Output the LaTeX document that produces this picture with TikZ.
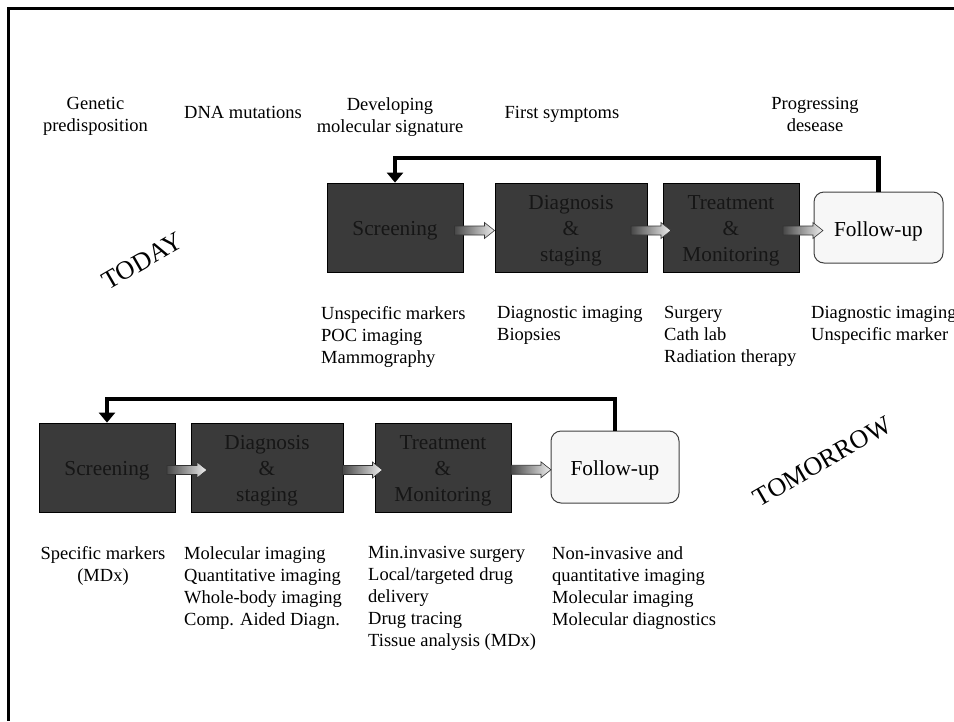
\documentclass[tikz,border=0pt]{standalone}
\usepackage{fontspec}
\setmainfont{Liberation Serif}
\usetikzlibrary{arrows.meta,calc}
\definecolor{boxfill}{HTML}{3A3A3A}
\definecolor{boxtext}{HTML}{161616}
\definecolor{fufill}{HTML}{F7F7F7}
\begin{document}
\begin{tikzpicture}[x=1pt,y=-1pt,
  stage/.style={draw=black, line width=0.8pt, fill=boxfill, minimum height=89pt, inner sep=0pt},
  stagetext/.style={text=boxtext, font=\fontsize{21.3}{26}\selectfont, align=center, inner sep=0pt, yshift=-3.5pt},
  futext/.style={text=black, font=\fontsize{21.3}{26}\selectfont, align=center, inner sep=0pt, yshift=-3.5pt},
  followup/.style={draw=black!75, line width=1pt, fill=fufill, rounded corners=10pt, minimum height=71pt, inner sep=0pt},
  lbl/.style={font=\fontsize{18.5}{22}\selectfont, inner sep=0pt, align=left, anchor=north west},
  toplbl/.style={font=\fontsize{18.5}{22}\selectfont, inner sep=0pt, align=center, anchor=north},
  era/.style={font=\fontsize{26}{30}\selectfont, rotate=30, inner sep=0pt},
  feedback/.style={line width=4.5pt, line join=miter, -{Triangle[width=16pt,length=10pt]}},
  blockarrow/.pic={\shade[left color=black!72, right color=black!6, draw=black!80, line width=0.6pt]
    (-20,-4.5) -- (10,-4.5) -- (10,-8) -- (20,0) -- (10,8) -- (10,4.5) -- (-20,4.5) -- cycle;}
]
\useasboundingbox (0,0) rectangle (954,721);
\clip (0,0) rectangle (954,721);
\draw[line width=2.5pt] (954,8.5) -- (8.5,8.5) -- (8.5,721);

% top labels
\node[toplbl] (gen) at (95.5,97.5) {Genetic\\predisposition};
\node[toplbl] (dna) at (243,106) {DNA mutations};
\node[toplbl] (dev) at (390,97.5) {Developing\\molecular signature};
\node[toplbl] (fst) at (562,106) {First symptoms};
\node[toplbl] (prg) at (815,97.5) {Progressing\\desease};

% TODAY
\node[stage, minimum width=136pt, label={[stagetext]center:Screening}] (s1) at (395,227.5) {};
\node[stage, minimum width=152pt, label={[stagetext]center:Diagnosis\\\&\\staging}] (d1) at (571,227.5) {};
\node[stage, minimum width=136pt, label={[stagetext]center:Treatment\\\&\\Monitoring}] (t1) at (731,227.5) {};
\node[followup, minimum width=129pt, label={[futext]center:Follow-up}] (f1) at (878.5,227.5) {};

\coordinate (a11) at ($(s1.east)!0.5!(d1.west)+(-4.5,3)$);
\coordinate (a12) at ($(d1.east)!0.5!(t1.west)+(-4,3)$);
\coordinate (a13) at ($(t1.east)!0.5!(f1.west)+(-3.5,3)$);
\pic at (a11) {blockarrow};
\pic at (a12) {blockarrow};
\pic at (a13) {blockarrow};
\draw[feedback] (f1.north) -- ++(0,-33.5) -| (s1.north);

\node[era] (today) at (142.5,261) {TODAY};

\node[lbl] (l11) at (321,306.5) {Unspecific markers\\POC imaging\\Mammography};
\node[lbl] (l12) at (497,306.5) {Diagnostic imaging\\Biopsies};
\node[lbl] (l13) at (664,306.5) {Surgery\\Cath lab\\Radiation therapy};
\node[lbl] (l14) at (811,306.5) {Diagnostic imaging\\Unspecific marker};

% TOMORROW
\node[stage, minimum width=136pt, label={[stagetext]center:Screening}] (s2) at (107,467.5) {};
\node[stage, minimum width=152pt, label={[stagetext]center:Diagnosis\\\&\\staging}] (d2) at (267,467.5) {};
\node[stage, minimum width=136pt, label={[stagetext]center:Treatment\\\&\\Monitoring}] (t2) at (443,467.5) {};
\node[followup, minimum width=128pt, minimum height=72pt, label={[futext]center:Follow-up}] (f2) at (615,467) {};

\coordinate (a21) at ($(s2.east)!0.5!(d2.west)+(4,2.5)$);
\coordinate (a22) at ($(d2.east)!0.5!(t2.west)+(3.5,2.5)$);
\coordinate (a23) at ($(t2.east)!0.5!(f2.west)+(0,2.5)$);
\pic at (a21) {blockarrow};
\pic at (a22) {blockarrow};
\pic at (a23) {blockarrow};
\draw[feedback] (f2.north) -- ++(0,-31.5) -| (s2.north);

\node[era] (tomorrow) at (822.5,461.5) {TOMORROW};

\node[toplbl] (l21) at (103,546.5) {Specific markers\\(MDx)};
\node[lbl] (l22) at (184,546.5) {Molecular imaging\\Quantitative imaging\\Whole-body imaging\\Comp. Aided Diagn.};
\node[lbl] (l23) at (368,546.5) {Min.invasive surgery\\Local/targeted drug\\delivery\\Drug tracing\\Tissue analysis (MDx)};
\node[lbl] (l24) at (552,546.5) {Non-invasive and\\quantitative imaging\\Molecular imaging\\Molecular diagnostics};
\end{tikzpicture}
\end{document}
